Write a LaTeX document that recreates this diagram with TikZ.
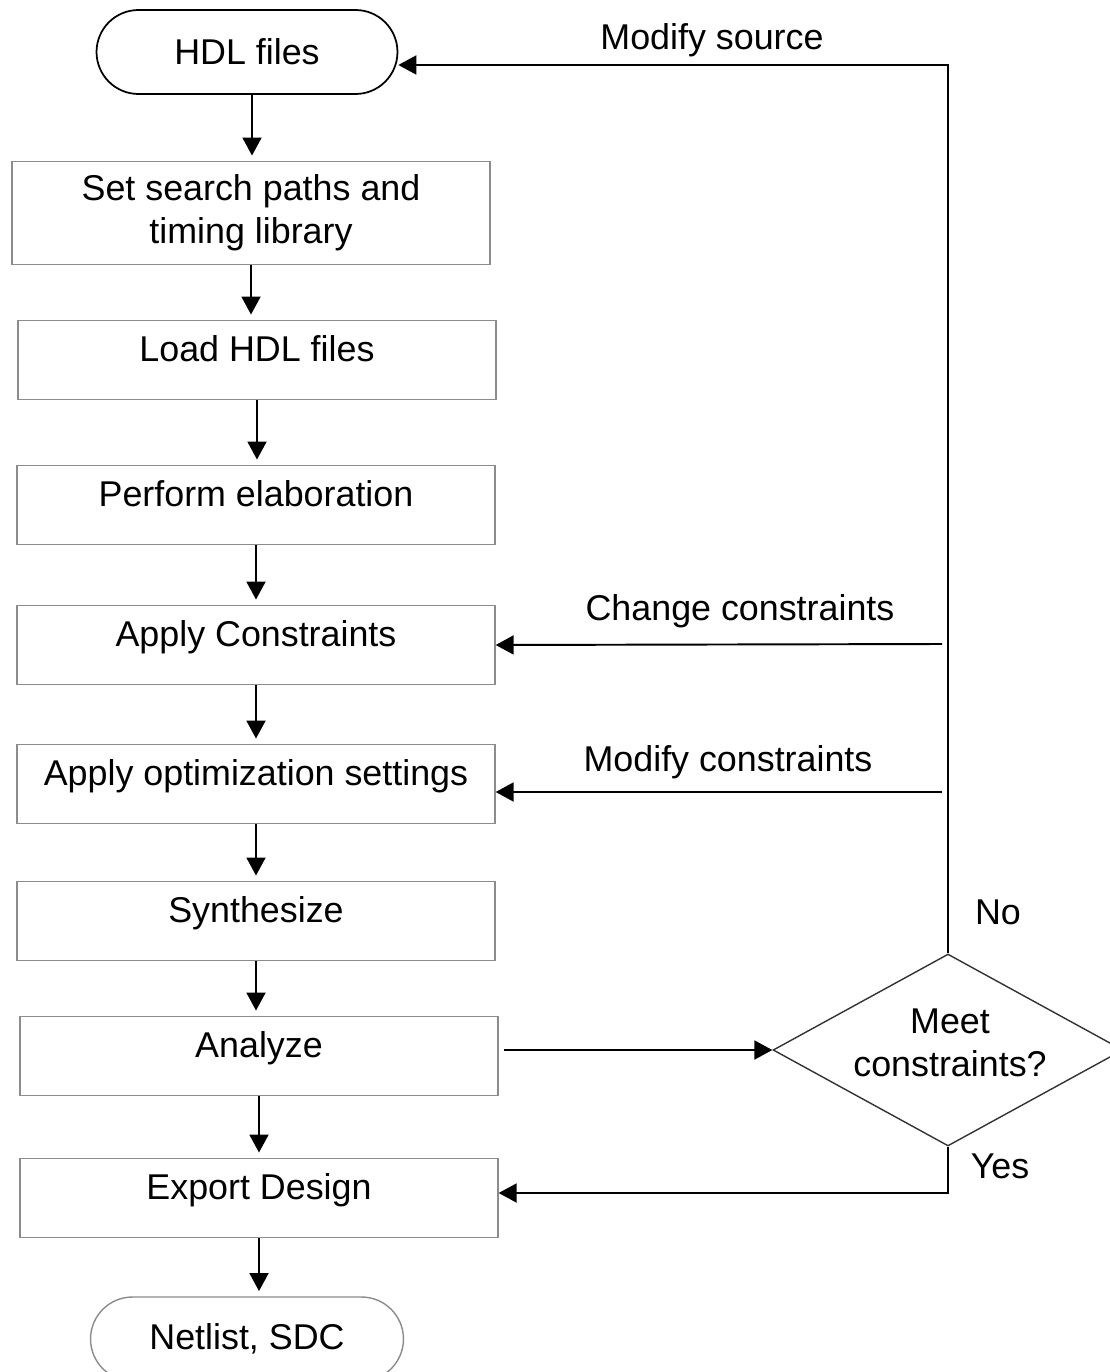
\documentclass[tikz,border=0pt]{standalone}
\usepackage{fontspec}
\setmainfont{Liberation Sans}
\usepackage{xcolor}
\definecolor{boxgray}{RGB}{140,140,140}
\usetikzlibrary{arrows.meta,positioning,shapes.geometric,shapes.misc,calc}

\begin{document}
\begin{tikzpicture}[x=0.02cm,y=-0.02cm,
  font=\fontsize{20.4}{24.5}\selectfont,
  stepbox/.style={draw=boxgray,line width=0.8pt,minimum width=9.56cm,minimum height=1.58cm,
    text height=0.72em,text depth=0.5em,align=center},
  termbox/.style={rounded rectangle,minimum height=1.68cm,inner sep=0pt},
  flow/.style={-{Triangle[length=0.36cm,width=0.38cm]},line width=1.1pt},
  down/.style={flow,shorten >=3pt}]
  \useasboundingbox (0,0) rectangle (1109,1372);
  % main column
  \node[termbox,draw=black,line width=1pt,minimum width=6.02cm] (hdl) at (247,52) {HDL files};
  \node[stepbox,minimum height=2.06cm,text height=,text depth=] (paths) at (251,213) {Set search paths and\\timing library};
  \node[stepbox] (load) at (257,360) {Load HDL files};
  \node[stepbox] (elab) at (256,505) {Perform elaboration};
  \node[stepbox] (apply) at (256,645) {Apply Constraints};
  \node[stepbox] (opt) at (256,784) {Apply optimization settings};
  \node[stepbox] (synth) at (256,921) {Synthesize};
  \node[stepbox] (analyze) at (259,1056) {Analyze};
  \node[stepbox] (export) at (259,1198) {Export Design};
  \node[termbox,draw=boxgray,line width=0.8pt,minimum width=6.26cm] (netlist) at (247,1339) {Netlist, SDC};
  % decision
  \node[diamond,draw=black!80,line width=0.8pt,minimum width=7cm,minimum height=3.84cm,inner sep=0pt] (meet) at (948,1050) {};
  \node[align=center] (meetlbl) at (950,1043) {Meet\\constraints?};
  \coordinate (cc) at (942,644);
  \coordinate (mc) at (942,792);
  % labels
  \node (srclbl) at (712,40) {Modify source};
  \node (cclbl) at (740,611) {Change constraints};
  \node (mclbl) at (728,762) {Modify constraints};
  \node (nolbl) at (998,912) {No};
  \node (yeslbl) at (1000,1166) {Yes};
  % arrows
  \draw[down] ([xshift=0.1cm]hdl.south) -- ([xshift=0.1cm]hdl.south |- paths.north);
  \draw[down] (paths.south) -- (paths.south |- load.north);
  \draw[down] (load.south) -- (load.south |- elab.north);
  \draw[down] (elab.south) -- (elab.south |- apply.north);
  \draw[down] (apply.south) -- (apply.south |- opt.north);
  \draw[down] (opt.south) -- (opt.south |- synth.north);
  \draw[down] (synth.south) -- (synth.south |- analyze.north);
  \draw[down] (analyze.south) -- (analyze.south |- export.north);
  \draw[down] (export.south) -- (export.south |- netlist.north);
  \draw[flow,shorten <=0.1cm] (analyze.east |- meet.west) -- (meet.west);
  \draw[flow] (meet.north) |- ([yshift=-0.26cm]hdl.east);
  \draw[flow] (cc) -- (apply.east);
  \draw[flow] (mc) -- (mc -| opt.east);
  \draw[flow] (meet.south) |- ([yshift=0.1cm]export.east);
\end{tikzpicture}
\end{document}
